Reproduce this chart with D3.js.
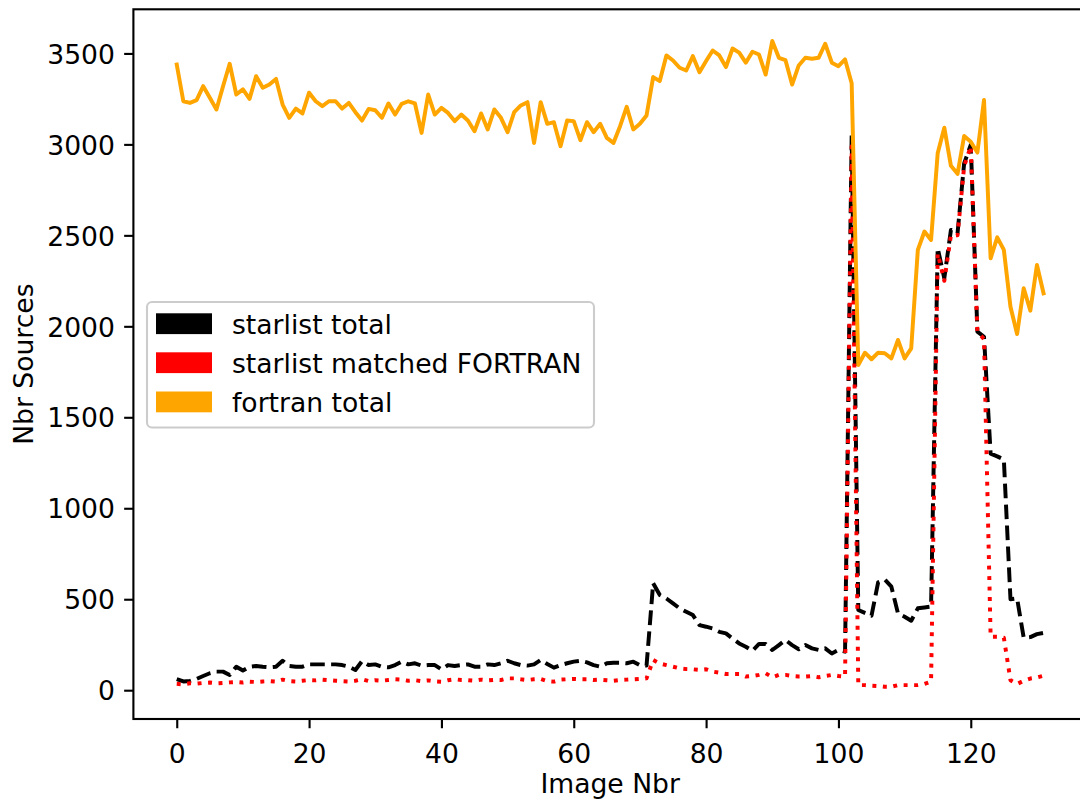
<!DOCTYPE html>
<html>
<head>
<meta charset="utf-8">
<script src="https://cdn.jsdelivr.net/npm/d3@7"></script>
<style>
  html, body { margin: 0; padding: 0; background: #fff; }
  svg { display: block; }
  text { font-family: "DejaVu Sans", sans-serif; fill: #000; }
</style>
</head>
<body>
<svg id="chart" width="1080" height="801"></svg>
<script>
// ---- data ----
const imageNbr = d3.range(0, 132);

const starlistTotal = [
  61, 48, 51, 62, 78, 93, 102, 102, 84, 129,
  108, 129, 133, 129, 126, 129, 162, 133, 129, 129,
  142, 142, 142, 142, 142, 138, 129, 111, 160, 138,
  142, 129, 126, 138, 157, 142, 148, 135, 138, 138,
  115, 138, 133, 138, 142, 129, 129, 142, 138, 148,
  162, 148, 138, 135, 142, 166, 144, 124, 138, 148,
  157, 162, 153, 138, 129, 148, 151, 151, 148, 157,
  138, 135, 588, 523, 504, 477, 450, 431, 413, 358,
  349, 339, 321, 312, 284, 257, 239, 217, 254, 254,
  221, 248, 276, 248, 225, 248, 230, 221, 230, 202,
  221, 212, 3050, 441, 425, 410, 593, 608, 569, 422,
  404, 382, 450, 455, 460, 2430, 2264, 2530, 2512, 2896,
  2997, 1971, 1943, 1300, 1285, 1268, 500, 505, 288, 292,
  308, 315
];

const starlistMatched = [
  35, 32, 38, 36, 40, 42, 38, 40, 43, 45,
  42, 47, 45, 48, 50, 47, 58, 50, 48, 52,
  56, 54, 58, 55, 52, 50, 48, 52, 60, 50,
  55, 52, 56, 60, 58, 52, 55, 50, 54, 48,
  46, 55, 60, 56, 55, 52, 58, 54, 57, 56,
  65, 65, 60, 56, 60, 62, 50, 47, 58, 60,
  62, 60, 60, 56, 58, 55, 52, 56, 58, 60,
  62, 65, 166, 147, 138, 129, 120, 116, 115, 111,
  115, 102, 96, 89, 89, 89, 75, 78, 84, 93,
  71, 84, 84, 78, 75, 75, 78, 71, 78, 84,
  78, 75, 2990, 28, 28, 25, 23, 19, 19, 28,
  28, 28, 28, 34, 47, 2400, 2250, 2500, 2500, 2880,
  2990, 1970, 1930, 294, 294, 288, 55, 34, 52, 64,
  70, 80
];

const fortranTotal = [
  3439, 3237, 3228, 3243, 3320, 3256, 3192, 3320, 3443, 3274,
  3302, 3250, 3375, 3311, 3329, 3360, 3219, 3146, 3197, 3170,
  3284, 3237, 3210, 3237, 3237, 3197, 3228, 3177, 3131, 3195,
  3188, 3146, 3225, 3164, 3223, 3237, 3225, 3063, 3274, 3164,
  3201, 3173, 3128, 3164, 3131, 3072, 3170, 3082, 3192, 3146,
  3067, 3177, 3214, 3232, 3008, 3232, 3113, 3122, 2990, 3131,
  3128, 3023, 3122, 3067, 3113, 3036, 3008, 3100, 3206, 3082,
  3113, 3159, 3370, 3348, 3489, 3461, 3421, 3406, 3485, 3397,
  3458, 3516, 3489, 3425, 3527, 3504, 3449, 3509, 3494, 3384,
  3568, 3476, 3463, 3329, 3434, 3476, 3471, 3476, 3553, 3449,
  3430, 3467, 3336, 1787, 1855, 1819, 1855, 1852, 1824, 1925,
  1824, 1879, 2420, 2521, 2475, 2951, 3092, 2882, 2838, 3046,
  3015, 2955, 3244, 2374, 2489, 2420, 2108, 1958, 2209, 2086,
  2337, 2181
];

const xTicks = [0, 20, 40, 60, 80, 100, 120];
const yTicks = [0, 500, 1000, 1500, 2000, 2500, 3000, 3500];

const seriesNames = ["starlist total", "starlist matched FORTRAN", "fortran total"];
const seriesColors = ["#000000", "#ff0000", "#ffa500"];

// ---- layout ----
const pt = 2.64;
const fontSize = 26.6;
const plot = { left: 133.4, right: 1086.9, top: 9.3, bottom: 719 };

const svg = d3.select("#chart");

const x = d3.scaleLinear().domain([-6.55, 137.55]).range([plot.left, plot.right]);
const y = d3.scaleLinear().domain([-158.3, 3742.5]).range([plot.bottom, plot.top]);

const lineGen = vals => d3.line()
  .x((d, i) => x(imageNbr[i]))
  .y(d => y(d))(vals);

const gLines = svg.append("g");

// starlist total (dashed black)
gLines.append("path")
  .attr("d", lineGen(starlistTotal))
  .attr("fill", "none")
  .attr("stroke", seriesColors[0])
  .attr("stroke-width", 1.5 * pt)
  .attr("stroke-dasharray", `${3.7 * 1.5 * pt} ${1.6 * 1.5 * pt}`)
  .attr("stroke-linejoin", "round")
  .attr("stroke-linecap", "butt");

// starlist matched (dotted red)
gLines.append("path")
  .attr("d", lineGen(starlistMatched))
  .attr("fill", "none")
  .attr("stroke", seriesColors[1])
  .attr("stroke-width", 1.5 * pt)
  .attr("stroke-dasharray", `${1 * 1.5 * pt} ${1.65 * 1.5 * pt}`)
  .attr("stroke-linejoin", "round")
  .attr("stroke-linecap", "butt");

// fortran total (solid orange)
gLines.append("path")
  .attr("d", lineGen(fortranTotal))
  .attr("fill", "none")
  .attr("stroke", seriesColors[2])
  .attr("stroke-width", 1.5 * pt)
  .attr("stroke-linejoin", "round")
  .attr("stroke-linecap", "square");

// ---- axes ----
const tickLen = 3.5 * pt;
const pad = 3.5 * pt;

const xAxis = d3.axisBottom(x).tickValues(xTicks).tickFormat(d3.format("d"))
  .tickSizeOuter(0).tickSizeInner(tickLen).tickPadding(pad);
const gx = svg.append("g").attr("transform", `translate(0,${plot.bottom})`).call(xAxis);
gx.select(".domain").remove();
gx.selectAll(".tick line").attr("stroke", "#000").attr("stroke-width", 0.8 * pt);
gx.selectAll(".tick text")
  .attr("font-size", fontSize)
  .attr("font-family", "DejaVu Sans")
  .attr("dy", null)
  .attr("y", 763 - plot.bottom)
  .attr("fill", "#000");

const yAxis = d3.axisLeft(y).tickValues(yTicks).tickFormat(d3.format("d"))
  .tickSizeOuter(0).tickSizeInner(tickLen).tickPadding(pad);
const gy = svg.append("g").attr("transform", `translate(${plot.left},0)`).call(yAxis);
gy.select(".domain").remove();
gy.selectAll(".tick line").attr("stroke", "#000").attr("stroke-width", 0.8 * pt);
gy.selectAll(".tick text")
  .attr("font-size", fontSize)
  .attr("font-family", "DejaVu Sans")
  .attr("dy", null)
  .attr("y", 9.7)
  .attr("fill", "#000");

// spines
svg.append("rect")
  .attr("x", plot.left).attr("y", plot.top)
  .attr("width", plot.right - plot.left).attr("height", plot.bottom - plot.top)
  .attr("fill", "none").attr("stroke", "#000").attr("stroke-width", 0.8 * pt)
  .attr("stroke-linejoin", "miter");

// axis labels
svg.append("text")
  .attr("x", (plot.left + plot.right) / 2)
  .attr("y", 793)
  .attr("text-anchor", "middle")
  .attr("font-size", fontSize)
  .text("Image Nbr");

svg.append("text")
  .attr("transform", `translate(33,${(plot.top + plot.bottom) / 2}) rotate(-90)`)
  .attr("text-anchor", "middle")
  .attr("font-size", fontSize)
  .text("Nbr Sources");

// ---- legend ----
const lg = svg.append("g");
lg.append("rect")
  .attr("x", 147).attr("y", 302)
  .attr("width", 447).attr("height", 125.5)
  .attr("rx", 5).attr("ry", 5)
  .attr("fill", "#fff").attr("fill-opacity", 0.8)
  .attr("stroke", "#cccccc").attr("stroke-width", 2.1);

const rowTop = [313.3, 352.3, 391.5];
seriesNames.forEach((name, i) => {
  lg.append("rect")
    .attr("x", 156).attr("y", rowTop[i])
    .attr("width", 56).attr("height", 20.8)
    .attr("fill", seriesColors[i]);
  lg.append("text")
    .attr("x", 232)
    .attr("y", rowTop[i] + 20.3)
    .attr("font-size", fontSize)
    .text(name);
});
</script>
</body>
</html>
